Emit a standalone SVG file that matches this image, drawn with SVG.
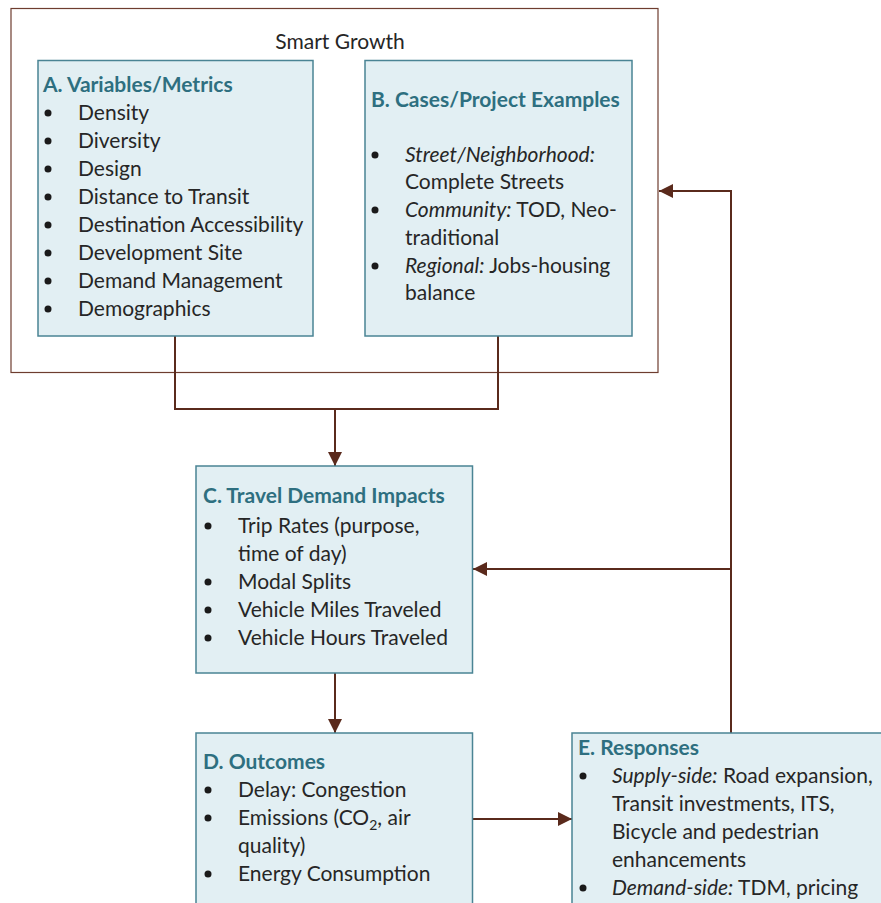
<svg xmlns="http://www.w3.org/2000/svg" width="881" height="903" viewBox="0 0 881 903">
<defs>
<marker id="ah" markerUnits="userSpaceOnUse" markerWidth="14" markerHeight="14" viewBox="0 0 12 12" refX="12" refY="6" orient="auto">
<path d="M0,0 L12,6 L0,12 Z" fill="#5A2A1C"/>
</marker>
<style>
.box{fill:#E2EFF3;stroke:#4A8494;stroke-width:1.5}
.outer{fill:#FFFFFF;stroke:#6E3D2F;stroke-width:1.2}
.t{font-family:Lato,"Liberation Sans",sans-serif;font-size:21px;fill:#262626}
.h{font-family:Lato,"Liberation Sans",sans-serif;font-size:21px;font-weight:bold;fill:#2E6F80}
.i{font-style:italic}
.b{fill:#1A1A1A}
.c{fill:none;stroke:#5A2A1C;stroke-width:2}
</style>
</defs>
<rect width="881" height="903" fill="#FFFFFF"/>
<g id="smart-growth">
<rect class="outer" x="11" y="8.5" width="647" height="364"/>
<text class="t" x="340" y="49" text-anchor="middle">Smart Growth</text>
</g>
<g id="connectors">
<path class="c" d="M175,336 V409 H498 V336"/>
<path class="c" d="M335,409 V466" marker-end="url(#ah)"/>
<path class="c" d="M335,673 V733" marker-end="url(#ah)"/>
<path class="c" d="M473,819 H572" marker-end="url(#ah)"/>
<path class="c" d="M731,733 V191 H659" marker-end="url(#ah)"/>
<path class="c" d="M731,569 H473" marker-end="url(#ah)"/>
</g>
<g id="node-a">
<rect class="box" x="38" y="60.5" width="275" height="275.5"/>
<text class="h" x="43" y="92">A. Variables/Metrics</text>
<g class="b"><circle cx="48" cy="113" r="3.5"/><circle cx="48" cy="141" r="3.5"/><circle cx="48" cy="169" r="3.5"/><circle cx="48" cy="197" r="3.5"/><circle cx="48" cy="225" r="3.5"/><circle cx="48" cy="253" r="3.5"/><circle cx="48" cy="281" r="3.5"/><circle cx="48" cy="309" r="3.5"/></g>
<text class="t" x="78" y="120">Density</text>
<text class="t" x="78" y="148">Diversity</text>
<text class="t" x="78" y="176">Design</text>
<text class="t" x="78" y="204">Distance to Transit</text>
<text class="t" x="78" y="232">Destination Accessibility</text>
<text class="t" x="78" y="260">Development Site</text>
<text class="t" x="78" y="288">Demand Management</text>
<text class="t" x="78" y="316">Demographics</text>
</g>
<g id="node-b">
<rect class="box" x="365" y="60.5" width="267" height="275.5"/>
<text class="h" x="371" y="107">B. Cases/Project Examples</text>
<g class="b"><circle cx="375" cy="155" r="3.5"/><circle cx="375" cy="210" r="3.5"/><circle cx="375" cy="266" r="3.5"/></g>
<text class="t" x="405" y="162"><tspan class="i">Street/Neighborhood:</tspan></text>
<text class="t" x="405" y="189">Complete Streets</text>
<text class="t" x="405" y="217"><tspan class="i">Community:</tspan> TOD, Neo-</text>
<text class="t" x="405" y="245">traditional</text>
<text class="t" x="405" y="273"><tspan class="i">Regional:</tspan> Jobs-housing</text>
<text class="t" x="405" y="300">balance</text>
</g>
<g id="node-c">
<rect class="box" x="196" y="466" width="276.5" height="207"/>
<text class="h" x="203" y="503">C. Travel Demand Impacts</text>
<g class="b"><circle cx="208" cy="526" r="3.5"/><circle cx="208" cy="582" r="3.5"/><circle cx="208" cy="610" r="3.5"/><circle cx="208" cy="638" r="3.5"/></g>
<text class="t" x="238" y="533">Trip Rates (purpose,</text>
<text class="t" x="238" y="561">time of day)</text>
<text class="t" x="238" y="589">Modal Splits</text>
<text class="t" x="238" y="617">Vehicle Miles Traveled</text>
<text class="t" x="238" y="645">Vehicle Hours Traveled</text>
</g>
<g id="node-d">
<rect class="box" x="196" y="733" width="276.5" height="180"/>
<text class="h" x="203" y="769">D. Outcomes</text>
<g class="b"><circle cx="208" cy="790" r="3.5"/><circle cx="208" cy="818" r="3.5"/><circle cx="208" cy="874" r="3.5"/></g>
<text class="t" x="238" y="797">Delay: Congestion</text>
<text class="t" x="238" y="825">Emissions (CO<tspan font-size="14" dy="5">2</tspan><tspan dy="-5">, air</tspan></text>
<text class="t" x="238" y="853">quality)</text>
<text class="t" x="238" y="881">Energy Consumption</text>
</g>
<g id="node-e">
<rect class="box" x="572" y="733" width="320" height="180"/>
<text class="h" x="578" y="755">E. Responses</text>
<g class="b"><circle cx="583" cy="776" r="3.5"/><circle cx="583" cy="888" r="3.5"/></g>
<text class="t" x="612" y="783"><tspan class="i">Supply-side:</tspan> Road expansion,</text>
<text class="t" x="612" y="811">Transit investments, ITS,</text>
<text class="t" x="612" y="839">Bicycle and pedestrian</text>
<text class="t" x="612" y="867">enhancements</text>
<text class="t" x="612" y="895"><tspan class="i">Demand-side:</tspan> TDM, pricing</text>
</g>
</svg>
